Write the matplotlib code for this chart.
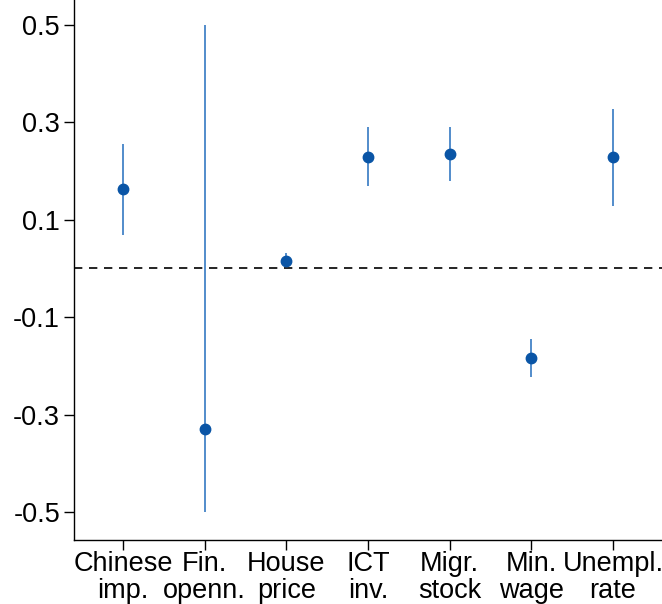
import matplotlib
matplotlib.use("Agg")
import matplotlib.pyplot as plt
import numpy as np

categories = ["Chinese\nimp.", "Fin.\nopenn.", "House\nprice", "ICT\ninv.",
              "Migr.\nstock", "Min.\nwage", "Unempl.\nrate"]
coef = [0.162, -0.329, 0.016, 0.229, 0.235, -0.184, 0.229]
ci_low = [0.068, -0.500, 0.003, 0.169, 0.180, -0.223, 0.129]
ci_high = [0.256, 0.500, 0.031, 0.290, 0.290, -0.145, 0.328]
yticks = [-0.5, -0.3, -0.1, 0.1, 0.3, 0.5]

plt.rcParams['font.family'] = ['Liberation Sans', 'DejaVu Sans']

fig = plt.figure(figsize=(6.62, 6.04), dpi=100)
ax = fig.add_axes([74/662, 64/604, 1 - 74/662, 1 - 64/604])

x = np.arange(1, len(categories) + 1)
ax.axhline(0, color="black", lw=1.2, ls=(0, (5, 4)), zorder=1)
ax.vlines(x, ci_low, ci_high, color="#3579c2", lw=1.2, zorder=2)
ax.plot(x, coef, "o", color="#0a55a6", ms=7.5, zorder=3)

ax.set_xlim(0.4, 7.6)
ax.set_ylim(-0.5575, 0.551)
ax.set_xticks(x)
ax.set_xticklabels(categories, fontsize=19.5, linespacing=1.03)
ax.set_yticks(yticks)
ax.set_yticklabels([f"{v:.1f}" for v in yticks], fontsize=19.5)
ax.tick_params(axis="both", length=7, width=1, color="black")
ax.tick_params(axis="x", pad=1)
ax.tick_params(axis="y", pad=3)
for s in ["top", "right"]:
    ax.spines[s].set_visible(False)
for s in ["left", "bottom"]:
    ax.spines[s].set_linewidth(1)

fig.savefig("out.png", dpi=100)
